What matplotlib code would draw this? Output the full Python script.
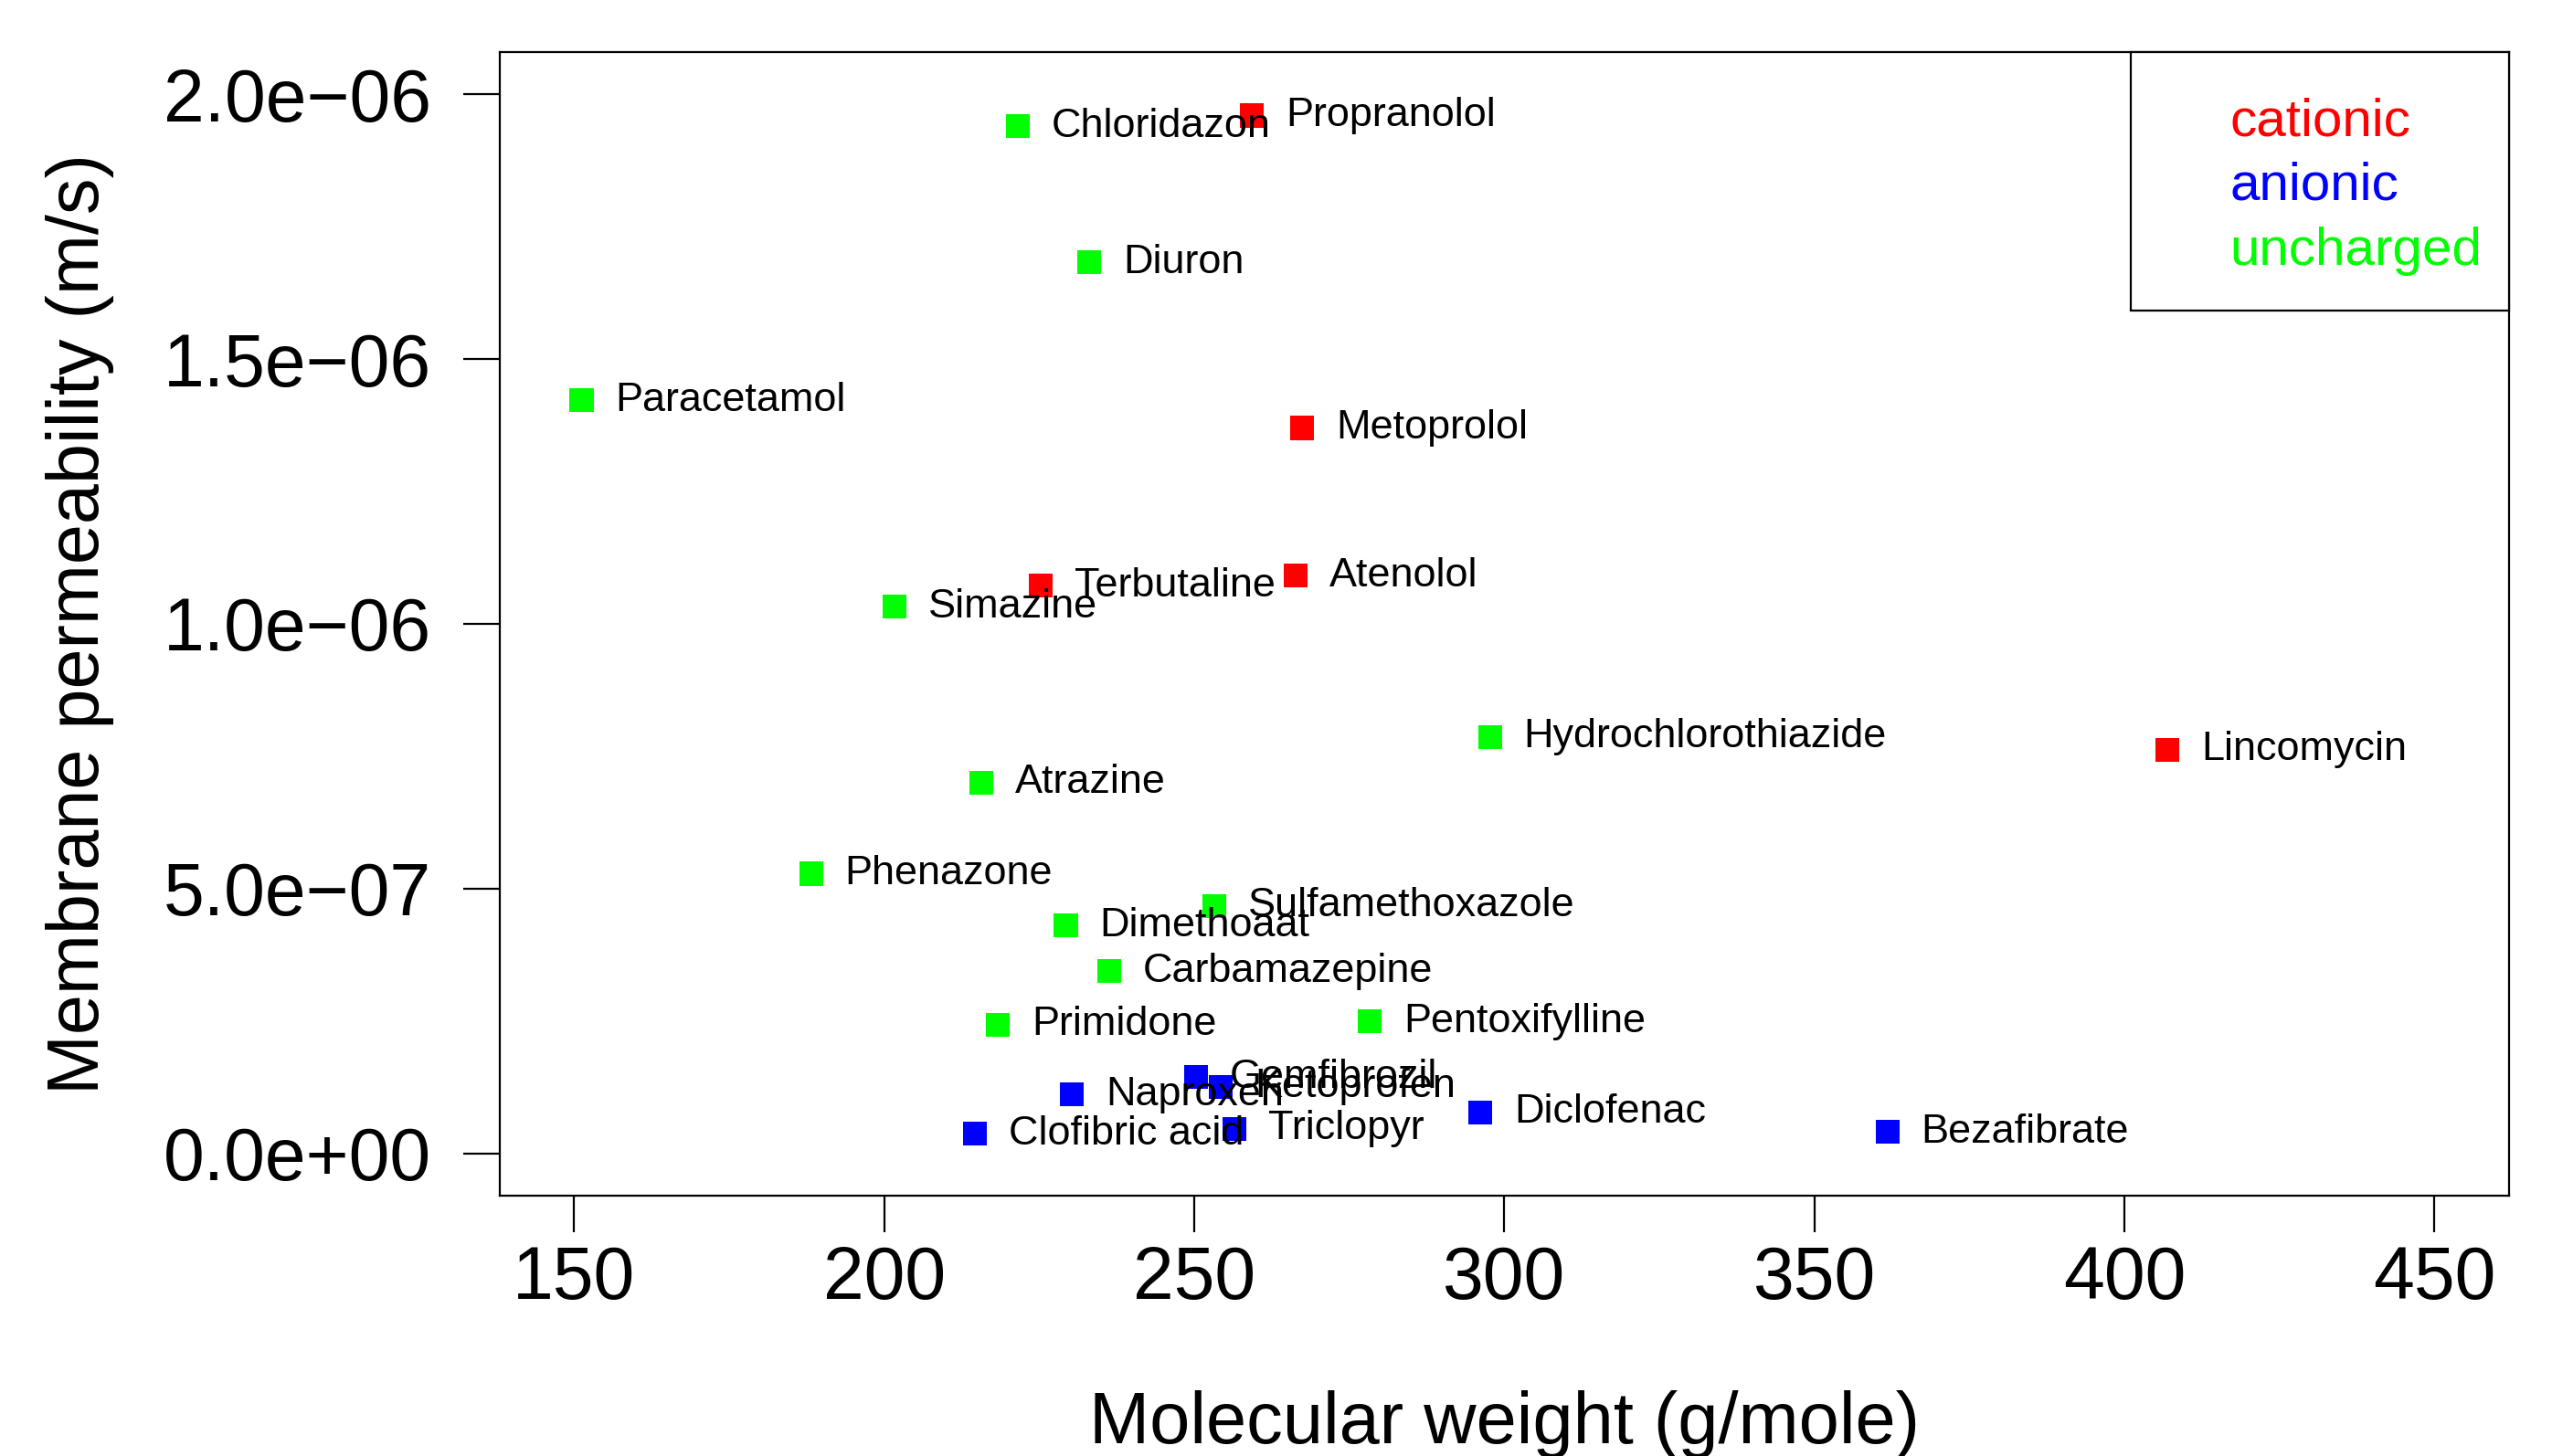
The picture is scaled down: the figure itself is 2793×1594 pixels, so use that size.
import matplotlib
matplotlib.use('Agg')
import matplotlib.pyplot as plt
from matplotlib.patches import Rectangle

plt.rcParams['font.family'] = ['Liberation Sans', 'DejaVu Sans']

# data
names = ['Chloridazon', 'Propranolol', 'Diuron', 'Paracetamol', 'Metoprolol',
         'Terbutaline', 'Atenolol', 'Simazine', 'Hydrochlorothiazide', 'Lincomycin',
         'Atrazine', 'Phenazone', 'Sulfamethoxazole', 'Dimethoaat', 'Carbamazepine',
         'Primidone', 'Pentoxifylline', 'Gemfibrozil', 'Ketoprofen', 'Naproxen',
         'Diclofenac', 'Clofibric acid', 'Triclopyr', 'Bezafibrate']
mol_weight = [221.6, 259.3, 233.1, 151.2, 267.4,
              225.3, 266.3, 201.7, 297.7, 406.9,
              215.7, 188.2, 253.3, 229.3, 236.3,
              218.3, 278.3, 250.3, 254.3, 230.3,
              296.1, 214.6, 256.5, 361.8]
permeability = [1.94e-6, 1.96e-6, 1.683e-6, 1.422e-6, 1.37e-6,
                1.072e-6, 1.091e-6, 1.032e-6, 0.786e-6, 0.762e-6,
                0.70e-6, 0.528e-6, 0.467e-6, 0.430e-6, 0.344e-6,
                0.243e-6, 0.249e-6, 0.144e-6, 0.126e-6, 0.111e-6,
                0.077e-6, 0.037e-6, 0.046e-6, 0.040e-6]
charge = ['uncharged', 'cationic', 'uncharged', 'uncharged', 'cationic',
          'cationic', 'cationic', 'uncharged', 'uncharged', 'cationic',
          'uncharged', 'uncharged', 'uncharged', 'uncharged', 'uncharged',
          'uncharged', 'uncharged', 'anionic', 'anionic', 'anionic',
          'anionic', 'anionic', 'anionic', 'anionic']

legend_labels = ['cationic', 'anionic', 'uncharged']
charge_colors = {'cationic': '#FF0000', 'anionic': '#0000FF', 'uncharged': '#00FF00'}

x_ticks = [150, 200, 250, 300, 350, 400, 450]
y_ticks = [0.0, 5.0e-7, 1.0e-6, 1.5e-6, 2.0e-6]
y_tick_labels = ['0.0e+00', '5.0e\u221207', '1.0e\u221206', '1.5e\u221206', '2.0e\u221206']

fig = plt.figure(figsize=(13.965, 7.97), dpi=200)
ax = fig.add_axes([0.1958, 0.1788, 0.7873, 0.7855])

# R-style 4% padding around the limits
ax.set_xlim(150 - 12, 450 + 12)
ax.set_ylim(-0.08e-6, 2.08e-6)

colors = [charge_colors[c] for c in charge]
ax.scatter(mol_weight, permeability, s=9.4 ** 2, marker='s', c=colors,
           linewidths=0, zorder=2)

for n, xv, yv in zip(names, mol_weight, permeability):
    ax.annotate(n, (xv, yv), xytext=(13.3, 0), textcoords='offset points',
                ha='left', va='center', fontsize=16.2, color='black', zorder=3)

ax.set_xticks(x_ticks)
ax.set_xticklabels([str(t) for t in x_ticks])
ax.set_yticks(y_ticks)
ax.set_yticklabels(y_tick_labels)
ax.tick_params(axis='both', direction='out', length=14.4, width=0.8,
               labelsize=29)
ax.tick_params(axis='x', pad=5)
ax.tick_params(axis='y', pad=12.5)
for sp in ax.spines.values():
    sp.set_linewidth(0.8)

# legend box in the top right corner, text only
ax.add_patch(Rectangle((0.812, 0.774), 0.188, 0.226, transform=ax.transAxes,
                       facecolor='white', edgecolor='black', linewidth=0.8,
                       zorder=4, clip_on=False))
leg_y = [0.927, 0.871, 0.814]
for lab, ly in zip(legend_labels, leg_y):
    ax.text(0.861, ly, lab, transform=ax.transAxes, color=charge_colors[lab],
            fontsize=21, ha='left', va='baseline', zorder=5)

fig.text(1646 / 2793, (1594 - 1580) / 1594, 'Molecular weight (g/mole)',
         fontsize=28.6, ha='center', va='baseline')
fig.text(108 / 2793, (1594 - 683) / 1594, 'Membrane permeability (m/s)',
         fontsize=28.5, ha='center', va='baseline', rotation=90,
         rotation_mode='anchor')

fig.savefig('out.png', dpi=200)
